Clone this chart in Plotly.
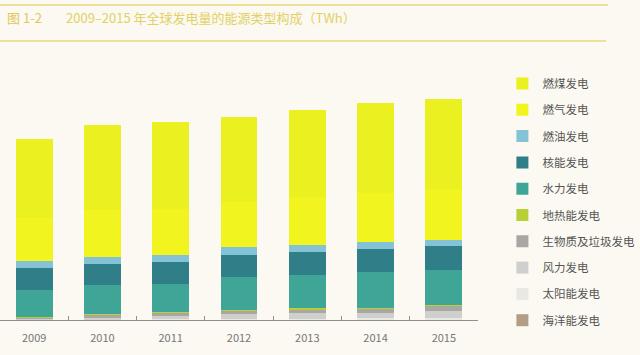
import plotly.graph_objects as go

years = ["2009", "2010", "2011", "2012", "2013", "2014", "2015"]

# values in TWh
coal = [8700, 9300, 9500, 9300, 9600, 9900, 9900]
gas = [4750, 5220, 5130, 5030, 5250, 5390, 5580]
oil = [770, 770, 770, 810, 800, 770, 690]
nuclear = [2350, 2340, 2390, 2490, 2570, 2530, 2600]
hydro = [2970, 3190, 3110, 3600, 3660, 3960, 3920]
geothermal = [60, 65, 68, 70, 72, 75, 78]
biomass = [180, 290, 330, 400, 440, 460, 500]
wind = [110, 230, 390, 520, 620, 590, 800]
solar = [10, 35, 65, 100, 140, 190, 240]
ocean = [1, 1, 1, 1, 1, 1, 1]

# bottom-to-top stacking order
series_names = ["海洋能发电", "太阳能发电", "风力发电", "生物质及垃圾发电", "地热能发电",
                "水力发电", "核能发电", "燃油发电", "燃气发电", "燃煤发电"]
series_values = [ocean, solar, wind, biomass, geothermal, hydro, nuclear, oil, gas, coal]
series_colors = ["#b39d84", "#e9e8e4", "#cfcfcd", "#a9a6a4", "#b8d033",
                 "#3fa697", "#2f7e88", "#84c3d6", "#f2f41f", "#ebf020"]

title_prefix = "图 1-2"
title_text = "2009–2015 年全球发电量的能源类型构成（TWh）"

fig = go.Figure()
n = len(series_names)
for i, (name, vals, col) in enumerate(zip(series_names, series_values, series_colors)):
    fig.add_trace(go.Bar(
        x=years, y=vals, name=name, legendgroup=name, legendrank=n - i,
        marker=dict(color=col, line=dict(width=0)),
    ))

fig.update_layout(
    width=640, height=355,
    barmode="stack", bargap=0.46,
    paper_bgcolor="#fbf9f1", plot_bgcolor="#fbf9f1",
    margin=dict(l=0, r=162, t=40, b=35, autoexpand=False),
    font=dict(family="Noto Sans CJK SC, Noto Sans, sans-serif", color="#666"),
    showlegend=True,
    legend=dict(
        traceorder="grouped", tracegroupgap=7.3,
        xref="container", yref="container",
        x=0.785, y=1 - 69 / 355, xanchor="left", yanchor="top",
        font=dict(size=11.5, color="#555"),
        bgcolor="rgba(0,0,0,0)", maxheight=1,
    ),
    xaxis=dict(
        showline=True, linecolor="#8f8f8f", linewidth=1,
        ticks="inside", tickson="boundaries", ticklen=4, tickcolor="#8f8f8f",
        showgrid=False, tickfont=dict(size=11, color="#777"), ticklabelstandoff=8,
        range=[-0.5, 6.5], automargin=False,
    ),
    yaxis=dict(visible=False, range=[0, 30800], showgrid=False, automargin=False),
    shapes=[
        dict(type="line", xref="paper", yref="paper", x0=0, x1=608 / 478,
             y0=1 + 35 / 280, y1=1 + 35 / 280, line=dict(color="#e5d97c", width=1.5)),
        dict(type="line", xref="paper", yref="paper", x0=0, x1=606 / 478,
             y0=1 - 1 / 280, y1=1 - 1 / 280, line=dict(color="#e5d97c", width=1.5)),
    ],
    annotations=[
        dict(text=title_prefix, xref="paper", yref="paper", x=5 / 478, y=1 + 23 / 280,
             xanchor="left", yanchor="middle", showarrow=False,
             font=dict(size=13, color="#e3c65e")),
        dict(text=title_text, xref="paper", yref="paper", x=64 / 478, y=1 + 23 / 280,
             xanchor="left", yanchor="middle", showarrow=False,
             font=dict(size=13, color="#e2d166")),
    ],
)

fig.write_html(
    "out.html",
    config={"displayModeBar": False},
    post_script="document.body.style.margin='0';document.body.style.background='#fbf9f1';",
)
